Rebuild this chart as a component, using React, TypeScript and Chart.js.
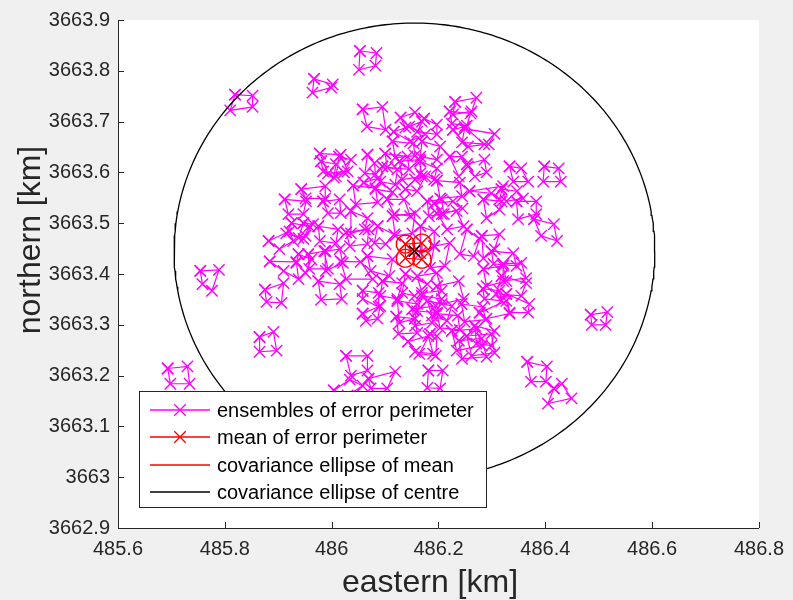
import React, { useEffect, useRef } from 'react';
import { Chart, registerables } from 'chart.js';

Chart.register(...registerables);

const FONT = '"Liberation Sans", Arial, Helvetica, sans-serif';
const AXIS_COLOR = '#262626';
const MAGENTA = '#ff00ff';
const RED = '#ff0000';

const xTickValues = [485.6, 485.8, 486.0, 486.2, 486.4, 486.6, 486.8];
const xTickLabels = ['485.6', '485.8', '486', '486.2', '486.4', '486.6', '486.8'];
const yTickValues = [3662.9, 3663.0, 3663.1, 3663.2, 3663.3, 3663.4, 3663.5, 3663.6, 3663.7, 3663.8, 3663.9];
const yTickLabels = ['3662.9', '3663', '3663.1', '3663.2', '3663.3', '3663.4', '3663.5', '3663.6', '3663.7', '3663.8', '3663.9'];

// each cluster: four perimeter points x1,y1,...,x4,y4 (km)
const ensembleClusters: number[][] = [
  [485.819, 3663.753, 485.852, 3663.751, 485.852, 3663.729, 485.810, 3663.722],
  [485.967, 3663.784, 486.002, 3663.773, 485.999, 3663.767, 485.964, 3663.757],
  [486.053, 3663.839, 486.084, 3663.835, 486.082, 3663.810, 486.051, 3663.802],
  [486.058, 3663.724, 486.095, 3663.729, 486.101, 3663.684, 486.066, 3663.690],
  [486.129, 3663.708, 486.156, 3663.718, 486.169, 3663.700, 486.138, 3663.688],
  [486.116, 3663.680, 486.145, 3663.690, 486.175, 3663.675, 486.147, 3663.661],
  [486.231, 3663.739, 486.271, 3663.747, 486.262, 3663.720, 486.227, 3663.714],
  [486.221, 3663.720, 486.260, 3663.716, 486.253, 3663.692, 486.225, 3663.696],
  [486.173, 3663.706, 486.197, 3663.694, 486.197, 3663.675, 486.160, 3663.680],
  [486.227, 3663.684, 486.249, 3663.690, 486.286, 3663.655, 486.255, 3663.651],
  [486.249, 3663.686, 486.305, 3663.676, 486.294, 3663.655, 486.244, 3663.659],
  [486.221, 3663.631, 486.244, 3663.631, 486.255, 3663.612, 486.238, 3663.592],
  [486.253, 3663.616, 486.286, 3663.625, 486.290, 3663.600, 486.268, 3663.592],
  [486.166, 3663.622, 486.197, 3663.608, 486.192, 3663.586, 486.166, 3663.598],
  [486.333, 3663.612, 486.355, 3663.608, 486.368, 3663.582, 486.340, 3663.582],
  [486.398, 3663.612, 486.425, 3663.608, 486.429, 3663.582, 486.396, 3663.582],
  [486.258, 3663.563, 486.321, 3663.573, 486.314, 3663.547, 486.299, 3663.559],
  [486.318, 3663.567, 486.347, 3663.563, 486.358, 3663.549, 486.327, 3663.543],
  [486.014, 3663.631, 486.036, 3663.625, 486.023, 3663.600, 486.008, 3663.592],
  [486.060, 3663.580, 486.086, 3663.588, 486.114, 3663.561, 486.082, 3663.567],
  [486.138, 3663.567, 486.156, 3663.586, 486.175, 3663.592, 486.160, 3663.563],
  [486.067, 3663.635, 486.080, 3663.618, 486.082, 3663.596, 486.062, 3663.598],
  [486.100, 3663.637, 486.142, 3663.631, 486.145, 3663.606, 486.104, 3663.610],
  [486.127, 3663.622, 486.164, 3663.625, 486.169, 3663.592, 486.132, 3663.586],
  [486.095, 3663.612, 486.123, 3663.606, 486.119, 3663.576, 486.091, 3663.582],
  [485.978, 3663.637, 486.017, 3663.635, 486.030, 3663.602, 485.993, 3663.598],
  [485.980, 3663.622, 486.008, 3663.616, 486.004, 3663.590, 485.984, 3663.602],
  [485.943, 3663.567, 485.988, 3663.573, 485.988, 3663.549, 485.951, 3663.549],
  [485.912, 3663.547, 485.952, 3663.543, 485.947, 3663.518, 485.919, 3663.518],
  [485.984, 3663.543, 486.015, 3663.547, 486.017, 3663.520, 485.993, 3663.520],
  [486.036, 3663.524, 486.067, 3663.510, 486.062, 3663.488, 486.036, 3663.480],
  [486.086, 3663.494, 486.117, 3663.478, 486.101, 3663.459, 486.080, 3663.461],
  [486.104, 3663.547, 486.136, 3663.547, 486.147, 3663.514, 486.117, 3663.518],
  [485.947, 3663.500, 485.965, 3663.498, 485.951, 3663.475, 485.938, 3663.471],
  [485.988, 3663.445, 486.015, 3663.449, 486.021, 3663.422, 485.989, 3663.406],
  [485.938, 3663.439, 485.962, 3663.429, 485.951, 3663.402, 485.934, 3663.422],
  [485.882, 3663.465, 485.921, 3663.484, 485.928, 3663.465, 485.902, 3663.449],
  [485.925, 3663.500, 485.958, 3663.494, 485.947, 3663.469, 485.915, 3663.480],
  [485.884, 3663.425, 485.934, 3663.424, 485.938, 3663.390, 485.910, 3663.406],
  [485.956, 3663.439, 485.986, 3663.445, 485.993, 3663.410, 485.958, 3663.410],
  [485.875, 3663.369, 485.910, 3663.382, 485.906, 3663.343, 485.878, 3663.345],
  [485.754, 3663.406, 485.789, 3663.408, 485.776, 3663.367, 485.758, 3663.380],
  [485.865, 3663.276, 485.891, 3663.286, 485.897, 3663.249, 485.865, 3663.247],
  [485.693, 3663.214, 485.730, 3663.218, 485.734, 3663.184, 485.698, 3663.184],
  [486.027, 3663.239, 486.067, 3663.239, 486.067, 3663.210, 486.036, 3663.200],
  [486.069, 3663.194, 486.119, 3663.208, 486.104, 3663.175, 486.073, 3663.175],
  [486.181, 3663.210, 486.208, 3663.210, 486.203, 3663.175, 486.179, 3663.176],
  [486.004, 3663.171, 486.034, 3663.192, 486.058, 3663.180, 486.030, 3663.161],
  [486.366, 3663.227, 486.403, 3663.218, 486.401, 3663.188, 486.373, 3663.188],
  [486.416, 3663.175, 486.431, 3663.184, 486.449, 3663.155, 486.405, 3663.145],
  [486.485, 3663.320, 486.516, 3663.325, 486.513, 3663.300, 486.487, 3663.300],
  [486.379, 3663.508, 486.416, 3663.498, 486.422, 3663.465, 486.392, 3663.475],
  [486.346, 3663.543, 486.383, 3663.543, 486.383, 3663.518, 486.349, 3663.508],
  [486.284, 3663.547, 486.318, 3663.543, 486.314, 3663.527, 486.290, 3663.510],
  [486.321, 3663.420, 486.355, 3663.422, 486.364, 3663.392, 486.321, 3663.386],
  [486.327, 3663.361, 486.370, 3663.341, 486.368, 3663.324, 486.333, 3663.324],
  [486.277, 3663.324, 486.327, 3663.347, 486.333, 3663.322, 486.290, 3663.312],
  [486.253, 3663.488, 486.277, 3663.469, 486.266, 3663.435, 486.240, 3663.439],
  [486.281, 3663.475, 486.314, 3663.478, 486.305, 3663.449, 486.284, 3663.431],
  [486.166, 3663.494, 486.192, 3663.484, 486.192, 3663.455, 486.166, 3663.441],
  [486.192, 3663.455, 486.221, 3663.461, 486.212, 3663.416, 486.184, 3663.412],
  [486.192, 3663.539, 486.227, 3663.543, 486.245, 3663.529, 486.206, 3663.518],
  [486.197, 3663.520, 486.234, 3663.524, 486.247, 3663.494, 486.216, 3663.488],
  [486.179, 3663.543, 486.206, 3663.547, 486.210, 3663.518, 486.182, 3663.514],
  [486.284, 3663.410, 486.321, 3663.416, 486.327, 3663.386, 486.290, 3663.376],
  [486.318, 3663.396, 486.364, 3663.382, 486.355, 3663.357, 486.308, 3663.361],
  [486.283, 3663.371, 486.314, 3663.367, 486.318, 3663.347, 486.286, 3663.351],
  [486.160, 3663.396, 486.197, 3663.402, 486.206, 3663.367, 486.169, 3663.363],
  [486.197, 3663.376, 486.238, 3663.386, 486.247, 3663.351, 486.206, 3663.341],
  [486.169, 3663.357, 486.206, 3663.351, 486.197, 3663.324, 486.160, 3663.327],
  [486.138, 3663.400, 486.179, 3663.380, 486.155, 3663.357, 486.132, 3663.363],
  [486.123, 3663.347, 486.160, 3663.341, 486.156, 3663.312, 486.127, 3663.304],
  [486.151, 3663.331, 486.195, 3663.337, 486.188, 3663.304, 486.156, 3663.298],
  [486.179, 3663.347, 486.225, 3663.337, 486.216, 3663.308, 486.188, 3663.318],
  [486.058, 3663.322, 486.091, 3663.337, 486.086, 3663.312, 486.064, 3663.308],
  [486.017, 3663.425, 486.054, 3663.424, 486.077, 3663.390, 486.027, 3663.390],
  [486.058, 3663.367, 486.088, 3663.363, 486.088, 3663.335, 486.058, 3663.351],
  [486.067, 3663.435, 486.114, 3663.429, 486.108, 3663.396, 486.073, 3663.406],
  [486.095, 3663.386, 486.132, 3663.382, 486.123, 3663.351, 486.091, 3663.357],
  [486.225, 3663.288, 486.271, 3663.292, 486.281, 3663.259, 486.234, 3663.249],
  [486.253, 3663.278, 486.299, 3663.282, 486.305, 3663.245, 486.262, 3663.239],
  [486.238, 3663.269, 486.281, 3663.273, 486.290, 3663.237, 486.244, 3663.233],
  [486.268, 3663.298, 486.305, 3663.288, 486.299, 3663.259, 486.271, 3663.263],
  [486.143, 3663.267, 486.181, 3663.278, 486.190, 3663.243, 486.156, 3663.247],
  [485.975, 3663.494, 486.012, 3663.488, 486.008, 3663.461, 485.978, 3663.465],
  [486.027, 3663.482, 486.069, 3663.488, 486.067, 3663.459, 486.034, 3663.455],
  [486.114, 3663.514, 486.156, 3663.520, 486.151, 3663.480, 486.119, 3663.475],
  [486.169, 3663.661, 486.203, 3663.651, 486.197, 3663.625, 486.166, 3663.631],
  [486.184, 3663.282, 486.197, 3663.278, 486.195, 3663.239, 486.164, 3663.243],
  [486.197, 3663.322, 486.236, 3663.318, 486.240, 3663.290, 486.203, 3663.294],
  [486.121, 3663.316, 486.156, 3663.312, 486.160, 3663.284, 486.125, 3663.282],
  [486.243, 3663.341, 486.283, 3663.335, 486.288, 3663.310, 486.249, 3663.306],
  [486.114, 3663.661, 486.153, 3663.657, 486.156, 3663.633, 486.119, 3663.629],
  [486.197, 3663.584, 486.240, 3663.580, 486.244, 3663.553, 486.203, 3663.549],
  [486.040, 3663.574, 486.082, 3663.569, 486.086, 3663.541, 486.045, 3663.537],
  [485.975, 3663.386, 486.015, 3663.380, 486.019, 3663.351, 485.980, 3663.349],
  [486.299, 3663.445, 486.340, 3663.441, 486.346, 3663.416, 486.303, 3663.420],
];

const meanX = [486.138, 486.169, 486.169, 486.138];
const meanY = [3663.459, 3663.461, 3663.429, 3663.431];
const meanEllipseRadius = { rx: 0.017, ry: 0.0175 };

const centreX = 486.155;
const centreY = 3663.445;
const centreEllipseRadius = { rx: 0.45, ry: 0.449 };

const legendLabels = [
  'ensembles of error perimeter',
  'mean of error perimeter',
  'covariance ellipse of mean',
  'covariance ellipse of centre',
];
const xTitle = 'eastern [km]';
const yTitle = 'northern [km]';

type Pt = { x: number; y: number };

function ellipsePoints(cx: number, cy: number, rx: number, ry: number, n = 180): Pt[] {
  const pts: Pt[] = [];
  for (let i = 0; i <= n; i++) {
    const t = (i / n) * Math.PI * 2;
    pts.push({ x: cx + rx * Math.cos(t), y: cy + ry * Math.sin(t) });
  }
  return pts;
}

function closedLoop(xs: number[], ys: number[]): Pt[] {
  const pts = xs.map((x, i) => ({ x, y: ys[i] }));
  pts.push({ x: xs[0], y: ys[0] });
  return pts;
}

const lineBase = {
  type: 'scatter' as const,
  showLine: true,
  fill: false,
  tension: 0,
};

const chromePlugin = {
  id: 'matlabChrome',
  beforeDraw(chart: any) {
    const { ctx, chartArea, width, height } = chart;
    ctx.save();
    ctx.fillStyle = '#f0f0f0';
    ctx.fillRect(0, 0, width, height);
    ctx.fillStyle = '#ffffff';
    ctx.fillRect(chartArea.left, chartArea.top, chartArea.right - chartArea.left, chartArea.bottom - chartArea.top);
    ctx.restore();
  },
  afterDraw(chart: any) {
    const { ctx, chartArea } = chart;
    const xs = chart.scales.x;
    const ys = chart.scales.y;
    ctx.save();
    ctx.strokeStyle = AXIS_COLOR;
    ctx.lineWidth = 1;
    ctx.beginPath();
    xTickValues.forEach((v) => {
      const px = Math.round(xs.getPixelForValue(v)) + 0.5;
      ctx.moveTo(px, chartArea.bottom);
      ctx.lineTo(px, chartArea.bottom - 6);
    });
    yTickValues.forEach((v) => {
      const py = Math.round(ys.getPixelForValue(v)) + 0.5;
      ctx.moveTo(chartArea.left, py);
      ctx.lineTo(chartArea.left + 6, py);
    });
    ctx.stroke();

    // axis titles
    ctx.fillStyle = AXIS_COLOR;
    ctx.font = `32px ${FONT}`;
    ctx.textAlign = 'center';
    ctx.textBaseline = 'middle';
    ctx.fillText(xTitle, 430, 583);
    ctx.save();
    ctx.translate(31, 240);
    ctx.rotate(-Math.PI / 2);
    ctx.fillText(yTitle, 0, 0);
    ctx.restore();

    // legend
    const bx = 139.5, by = 391.5, bw = 347, bh = 116;
    ctx.fillStyle = '#ffffff';
    ctx.fillRect(bx, by, bw, bh);
    ctx.strokeStyle = AXIS_COLOR;
    ctx.lineWidth = 1;
    ctx.strokeRect(bx, by, bw, bh);
    const rows = [410, 437, 465, 492];
    const colors = [MAGENTA, RED, RED, '#000000'];
    const markers = [true, true, false, false];
    rows.forEach((ry, i) => {
      ctx.strokeStyle = colors[i];
      ctx.lineWidth = 1.3;
      ctx.beginPath();
      ctx.moveTo(150, ry);
      ctx.lineTo(210, ry);
      ctx.stroke();
      if (markers[i]) {
        const d = 5.7;
        ctx.beginPath();
        ctx.moveTo(180 - d, ry - d);
        ctx.lineTo(180 + d, ry + d);
        ctx.moveTo(180 + d, ry - d);
        ctx.lineTo(180 - d, ry + d);
        ctx.stroke();
      }
      ctx.fillStyle = '#000000';
      ctx.font = `20px ${FONT}`;
      ctx.textBaseline = 'middle';
      ctx.textAlign = 'left';
      ctx.fillText(legendLabels[i], 217, ry + 1);
    });
    ctx.restore();
  },
};

export default function App() {
  const canvasRef = useRef<HTMLCanvasElement | null>(null);

  useEffect(() => {
    document.body.style.margin = '0';
    document.body.style.background = '#f0f0f0';
    const canvas = canvasRef.current;
    if (!canvas) return;

    const clusterDatasets = ensembleClusters.map((c, k) => ({
      ...lineBase,
      label: k === 0 ? legendLabels[0] : '',
      data: closedLoop([c[0], c[2], c[4], c[6]], [c[1], c[3], c[5], c[7]]),
      borderColor: MAGENTA,
      backgroundColor: MAGENTA,
      borderWidth: 1.2,
      pointStyle: 'crossRot',
      pointRadius: 8,
      pointBorderWidth: 1.4,
      pointBorderColor: MAGENTA,
      pointBackgroundColor: MAGENTA,
      order: 10,
    }));

    const meanEllipseDatasets = meanX.map((x, i) => ({
      ...lineBase,
      label: i === 0 ? legendLabels[2] : '',
      data: ellipsePoints(x, meanY[i], meanEllipseRadius.rx, meanEllipseRadius.ry, 60),
      borderColor: RED,
      backgroundColor: RED,
      borderWidth: 1.4,
      pointRadius: 0,
      order: 3,
    }));

    const chart = new Chart(canvas, {
      type: 'scatter',
      data: {
        datasets: [
          ...clusterDatasets,
          {
            ...lineBase,
            label: legendLabels[1],
            data: closedLoop(meanX, meanY),
            borderColor: RED,
            backgroundColor: RED,
            borderWidth: 1.2,
            pointStyle: 'crossRot',
            pointRadius: 8,
            pointBorderWidth: 1.4,
            pointBorderColor: RED,
            pointBackgroundColor: RED,
            order: 4,
          },
          ...meanEllipseDatasets,
          {
            ...lineBase,
            label: legendLabels[3],
            data: ellipsePoints(centreX, centreY, centreEllipseRadius.rx, centreEllipseRadius.ry, 360),
            borderColor: '#000000',
            backgroundColor: '#000000',
            borderWidth: 1.3,
            pointRadius: 0,
            order: 2,
          },
          {
            type: 'scatter',
            label: 'centre',
            data: [{ x: centreX, y: centreY }],
            borderColor: '#000000',
            backgroundColor: '#000000',
            showLine: false,
            pointStyle: 'crossRot',
            pointRadius: 8,
            pointBorderWidth: 1.4,
            pointBorderColor: '#000000',
            order: 1,
          },
        ] as any,
      },
      options: {
        animation: false,
        responsive: false,
        maintainAspectRatio: false,
        events: [],
        layout: { padding: { top: 18, right: 28, left: 0, bottom: 0 } },
        plugins: { legend: { display: false }, tooltip: { enabled: false } },
        scales: {
          x: {
            type: 'linear',
            min: 485.6,
            max: 486.8,
            afterBuildTicks: (s: any) => {
              s.ticks = xTickValues.map((v) => ({ value: v }));
            },
            afterFit: (s: any) => {
              s.height = 72;
            },
            grid: { display: false, drawTicks: false },
            border: { display: true, color: AXIS_COLOR, width: 1 },
            ticks: {
              callback: (_v: any, i: number) => xTickLabels[i],
              font: { family: FONT, size: 20 },
              color: AXIS_COLOR,
              padding: 9,
              maxRotation: 0,
              autoSkip: false,
            },
          },
          y: {
            type: 'linear',
            min: 3662.9,
            max: 3663.9,
            afterBuildTicks: (s: any) => {
              s.ticks = yTickValues.map((v) => ({ value: v }));
            },
            afterFit: (s: any) => {
              s.width = 118;
            },
            grid: { display: false, drawTicks: false },
            border: { display: true, color: AXIS_COLOR, width: 1 },
            ticks: {
              callback: (_v: any, i: number) => yTickLabels[i],
              font: { family: FONT, size: 20 },
              color: AXIS_COLOR,
              padding: 8,
              autoSkip: false,
            },
          },
        },
      },
      plugins: [chromePlugin],
    });

    return () => chart.destroy();
  }, []);

  return (
    <div style={{ width: 793, height: 600, background: '#f0f0f0' }}>
      <canvas ref={canvasRef} width={793} height={600} style={{ display: 'block', width: 793, height: 600 }} />
    </div>
  );
}
